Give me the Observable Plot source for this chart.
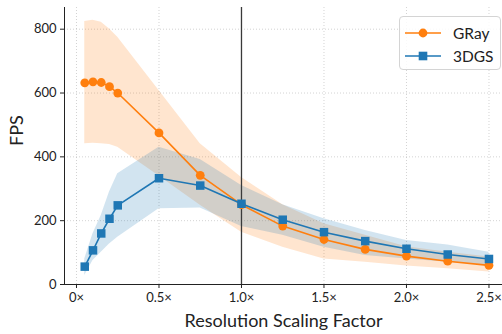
<!DOCTYPE html>
<html><head><meta charset="utf-8">
<script src="https://cdn.jsdelivr.net/npm/d3@7"></script>
<script src="https://cdn.jsdelivr.net/npm/@observablehq/plot@0.6"></script>
<style>
body{margin:0;background:#fff;font-family:Lato,"DejaVu Sans",sans-serif}
#wrap{position:relative;width:502px;height:334px}
#legend{position:absolute;left:399px;top:16px;width:102px;height:54px;border:1px solid #d4d4d4;border-radius:4px;background:rgba(255,255,255,0.85);box-sizing:border-box;padding-top:4px}
.lrow{display:flex;align-items:center;height:23px;font-size:15.5px;color:#222}
.lrow svg{margin-left:5px;margin-right:12px}
</style></head><body><div id="wrap"></div>
<script>
const xs      = [0.05, 0.1, 0.15, 0.2, 0.25, 0.5, 0.75, 1.0, 1.25, 1.5, 1.75, 2.0, 2.25, 2.5];
const gray    = [632, 635, 633, 620, 600, 475, 342, 250, 183, 141, 110, 89, 73, 60];
const grayHi  = [824, 828, 822, 801, 775, 608, 441, 335, 250, 190, 154, 118, 101, 86];
const grayLo  = [441, 443, 441, 439, 430, 340, 248, 164, 117, 80, 70, 58, 49, 39];
const dgs     = [56, 107, 160, 206, 248, 333, 310, 253, 203, 164, 136, 112, 94, 80];
const dgsHi   = [80, 159, 216, 290, 347, 430, 392, 310, 250, 206, 169, 138, 124, 101];
const dgsLo   = [28, 75, 101, 127, 148, 237, 240, 182, 154, 117, 91, 80, 70, 60];
const xTicks = [0, 0.5, 1, 1.5, 2, 2.5];
const xTickLabels = ["0×", "0.5×", "1.0×", "1.5×", "2.0×", "2.5×"];
const yTicks = [0, 200, 400, 600, 800];
const seriesNames = ["GRay", "3DGS"];
const colors = ["#ff7f0e", "#1f77b4"];
const xLabel = "Resolution Scaling Factor";
const yLabel = "FPS";
const refX = [1];

const rows = xs.map((x, i) => ({x, gray: gray[i], grayHi: grayHi[i], grayLo: grayLo[i], dgs: dgs[i], dgsHi: dgsHi[i], dgsLo: dgsLo[i]}));
const xDomain = [-0.0727, 2.582];
const grid = {stroke: "#b0b0b0", strokeOpacity: 0.7, strokeDasharray: "1,2", strokeWidth: 0.8};

const chart = Plot.plot({
  width: 502, height: 334,
  marginLeft: 64, marginRight: 0, marginTop: 7, marginBottom: 50,
  style: {fontFamily: "Lato, sans-serif", background: "#fff"},
  x: {domain: xDomain},
  y: {domain: [0, 868]},
  marks: [
    Plot.gridX(xTicks, grid),
    Plot.gridY(yTicks, grid),
    Plot.areaY(rows, {x: "x", y1: "grayLo", y2: "grayHi", fill: colors[0], fillOpacity: 0.2}),
    Plot.areaY(rows, {x: "x", y1: "dgsLo", y2: "dgsHi", fill: colors[1], fillOpacity: 0.2}),
    Plot.ruleX(refX, {stroke: "#3a3a3a", strokeWidth: 1.3}),
    Plot.lineY(rows, {x: "x", y: "gray", stroke: colors[0], strokeWidth: 1.6}),
    Plot.dot(rows, {x: "x", y: "gray", fill: colors[0], r: 4.4, symbol: "circle"}),
    Plot.lineY(rows, {x: "x", y: "dgs", stroke: colors[1], strokeWidth: 1.6}),
    Plot.dot(rows, {x: "x", y: "dgs", fill: colors[1], r: 4.8, symbol: "square"}),
    Plot.axisX(xTicks, {tickFormat: d => xTickLabels[xTicks.indexOf(d)], tickSize: 4, tickPadding: 4, fontSize: 13, label: null, color: "#222"}),
    Plot.axisY(yTicks, {tickSize: 4, tickPadding: 4, fontSize: 13, label: null, color: "#222"}),
    Plot.ruleY([0], {stroke: "#222", strokeWidth: 1}),
    Plot.ruleX([xDomain[0]], {stroke: "#222", strokeWidth: 1}),
    Plot.text([xLabel], {frameAnchor: "bottom", dy: 37, fontSize: 18, fill: "#222", lineAnchor: "middle"}),
    Plot.text([yLabel], {frameAnchor: "left", dx: -47, rotate: -90, fontSize: 18, fill: "#222", lineAnchor: "middle"})
  ]
});
const wrap = document.getElementById("wrap");
wrap.appendChild(chart);

const legend = document.createElement("div");
legend.id = "legend";
seriesNames.forEach((name, i) => {
  const row = document.createElement("div");
  row.className = "lrow";
  const marker = i === 0
    ? `<circle cx="18" cy="7" r="4.4" fill="${colors[i]}"/>`
    : `<rect x="13.7" y="2.7" width="8.6" height="8.6" fill="${colors[i]}"/>`;
  row.innerHTML = `<svg width="36" height="14"><line x1="0" x2="36" y1="7" y2="7" stroke="${colors[i]}" stroke-width="1.6"/>${marker}</svg><span>${name}</span>`;
  legend.appendChild(row);
});
wrap.appendChild(legend);
</script></body></html>
